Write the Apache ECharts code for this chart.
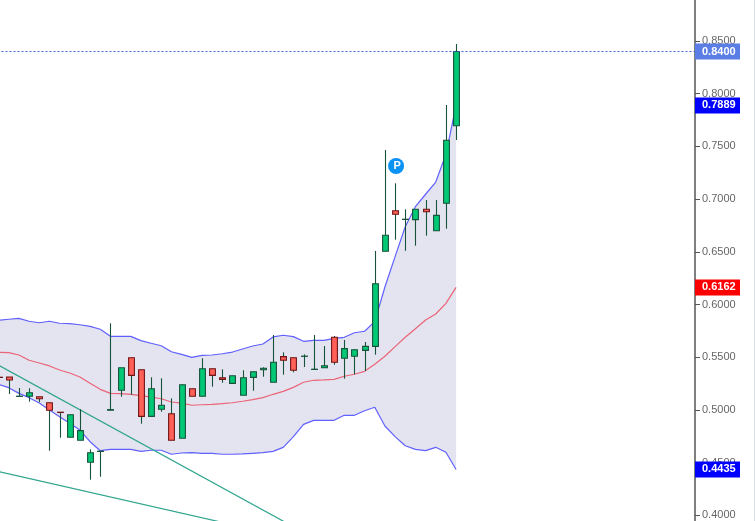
<!DOCTYPE html>
<html>
<head>
<meta charset="utf-8">
<style>html,body{margin:0;padding:0;background:#fff}#chart{width:755px;height:521px}</style>
<script src="https://cdn.jsdelivr.net/npm/echarts@6/dist/echarts.min.js"></script>
</head>
<body>
<div id="chart"></div>
<script>
// Daily candles: [open, close, low, high]
const candles = [
  [.5310,.5308,.5308,.5310],[.5312,.5284,.5151,.5312],[.5128,.5130,.5128,.5208],[.5129,.5163,.5078,.5205],
  [.5125,.5106,.5075,.5125],[.5068,.4996,.4613,.5068],[.4978,.4976,.4736,.4978],[.4740,.4954,.4740,.4954],
  [.4712,.4803,.4712,.5006],[.4503,.4594,.4338,.4626],[.4606,.4608,.4366,.4608],[.4997,.5003,.4997,.5822],
  [.5186,.5400,.5125,.5400],[.5495,.5328,.5144,.5495],[.5381,.4939,.4869,.5381],[.4939,.5201,.4939,.5309],
  [.5006,.5044,.4983,.5300],[.4964,.4712,.4712,.5110],[.4731,.5239,.4731,.5239],[.5201,.5129,.5129,.5201],
  [.5129,.5391,.5129,.5490],[.5391,.5328,.5220,.5391],[.5305,.5290,.5258,.5385],[.5252,.5324,.5252,.5324],
  [.5139,.5305,.5139,.5376],[.5309,.5362,.5182,.5362],[.5381,.5395,.5315,.5404],[.5262,.5452,.5262,.5711],
  [.5505,.5471,.5334,.5546],[.5495,.5376,.5357,.5495],[.5508,.5510,.5407,.5527],[.5384,.5386,.5384,.5711],
  [.5400,.5419,.5400,.5606],[.5689,.5452,.5429,.5701],[.5490,.5581,.5296,.5663],[.5509,.5571,.5338,.5571],
  [.5565,.5603,.5369,.5644],[.5603,.6197,.5524,.6508],[.6505,.6657,.6505,.7466],[.6890,.6856,.6615,.7150],
  [.6807,.6809,.6510,.6903],[.6805,.6903,.6558,.6903],[.6903,.6880,.6653,.6991],[.6700,.6846,.6700,.6991],
  [.6960,.7558,.6719,.7893],[.7696,.8400,.7561,.8472]
];

// Bollinger bands
const upperBand = [
  .5850,.5860,.5869,.5841,.5827,.5841,.5822,.5818,.5808,.5793,.5765,.5698,
  .5698,.5698,.5657,.5632,.5609,.5552,.5527,.5499,.5518,.5521,.5533,.5549,
  .5578,.5606,.5625,.5692,.5708,.5695,.5651,.5660,.5660,.5679,.5689,.5732,
  .5746,.5837,.6166,.6454,.6738,.6928,.7046,.7162,.7424,.7889
];
const middleBand = [
  .5546,.5543,.5521,.5471,.5445,.5417,.5379,.5350,.5312,.5252,.5195,.5157,
  .5154,.5148,.5135,.5122,.5106,.5075,.5065,.5044,.5049,.5053,.5059,.5068,
  .5082,.5097,.5116,.5148,.5176,.5214,.5262,.5281,.5284,.5290,.5319,.5338,
  .5366,.5433,.5509,.5600,.5689,.5770,.5853,.5910,.6011,.6162
];
const lowerBand = [
  .5243,.5211,.5157,.5116,.5065,.4999,.4935,.4873,.4809,.4698,.4613,.4626,
  .4626,.4626,.4607,.4617,.4617,.4579,.4591,.4594,.4588,.4588,.4579,.4579,
  .4582,.4588,.4594,.4607,.4645,.4746,.4863,.4901,.4901,.4901,.4949,.4949,
  .4992,.5025,.4847,.4746,.4660,.4626,.4613,.4645,.4598,.4435
];

// Hand-drawn trend lines: [slot, value] end points
const trendUpper = [[0, .5424], [31, .3786]];
const trendLower = [[0, .4416], [25, .3867]];

// Pattern marker and price tags
const patternMarker = [[39, .7314]];
const lastPrice = .8400;
const priceTags = [
  { value: .8400, color: '#5a7de6' },
  { value: .7889, color: '#0000ff' },
  { value: .6162, color: '#ff0000' },
  { value: .4435, color: '#0000ff' }
];

const slotCount = 69;
const slots = Array.from({ length: slotCount }, (_, i) => String(i));
const bandWidth = upperBand.map((v, i) => +(v - lowerBand[i]).toFixed(4));
const candleRows = candles.map((c, i) => [i, ...c]);

const bandBlue = 'rgba(80,80,255,0.9)';
const wickColor = '#17523a';
const fontFamily = '"Liberation Sans", Arial, sans-serif';

const tagLines = priceTags.map(t => ({
  yAxis: t.value,
  lineStyle: t.value === lastPrice
    ? { color: '#3f5fd0', type: [2, 2], width: 1 }
    : { color: 'transparent' },
  label: {
    show: true,
    position: 'end',
    distance: 0,
    formatter: t.value.toFixed(4),
    color: '#fff',
    fontFamily,
    fontSize: 11,
    fontWeight: 'bold',
    backgroundColor: t.color,
    width: 38,
    height: 15,
    lineHeight: 15,
    align: 'left',
    padding: [1, 0, 0, 7]
  }
}));

// Wicks stay dark green on every candle; only the body changes with direction.
function renderCandle(params, api) {
  const i = api.value(0);
  const open = api.value(1), close = api.value(2), low = api.value(3), high = api.value(4);
  const cx = Math.round(api.coord([i, open])[0]) + 0.5;
  const yOpen = api.coord([i, open])[1], yClose = api.coord([i, close])[1];
  const yLow = api.coord([i, low])[1], yHigh = api.coord([i, high])[1];
  const up = close >= open;
  const top = Math.min(yOpen, yClose);
  const h = Math.abs(yOpen - yClose);
  return {
    type: 'group',
    children: [
      {
        type: 'line',
        shape: { x1: cx, y1: yHigh, x2: cx, y2: yLow },
        style: { stroke: wickColor, lineWidth: 1.1 }
      },
      {
        type: 'rect',
        shape: { x: cx - 2.9, y: top, width: 5.8, height: h },
        style: {
          fill: up ? '#00c875' : '#ff6159',
          stroke: up ? wickColor : '#6e1414',
          lineWidth: 1.1
        }
      }
    ]
  };
}

const chart = echarts.init(document.getElementById('chart'), null, { renderer: 'canvas' });
chart.setOption({
  animation: false,
  backgroundColor: '#ffffff',
  grid: { left: -6.5, top: -11.7, width: 701.5, height: 579.7, containLabel: false, outerBoundsMode: 'none' },
  xAxis: { type: 'category', data: slots, show: false, boundaryGap: true },
  yAxis: {
    type: 'value',
    position: 'right',
    min: 0.35,
    max: 0.90,
    interval: 0.05,
    scale: true,
    splitLine: { show: false },
    axisLine: { show: true, onZero: false, lineStyle: { color: '#555', width: 1.5 } },
    axisTick: { show: true, length: 5, lineStyle: { color: '#555' } },
    axisLabel: {
      color: '#666',
      fontFamily,
      fontSize: 11,
      margin: 7,
      padding: [2, 0, 0, 0],
      formatter: v => v.toFixed(4)
    }
  },
  graphic: [{
    type: 'rect',
    shape: { x: 754, y: 0, width: 1, height: 521 },
    style: { fill: '#d9dfe6' }
  }],
  series: [
    {
      name: 'Lower', type: 'line', stack: 'band', data: lowerBand, symbol: 'none', z: 2,
      lineStyle: { color: bandBlue, width: 1.2 }
    },
    {
      name: 'Band', type: 'line', stack: 'band', data: bandWidth, symbol: 'none', z: 1,
      lineStyle: { color: bandBlue, width: 1.2 },
      areaStyle: { color: '#e4e4f0', opacity: 1 }
    },
    {
      name: 'Middle', type: 'line', data: middleBand, symbol: 'none', z: 2,
      lineStyle: { color: 'rgba(235,85,105,0.9)', width: 1.2 },
      markLine: {
        silent: true,
        symbol: 'none',
        precision: 4,
        animation: false,
        data: tagLines
      }
    },
    {
      name: 'Trend A', type: 'line', data: trendUpper, symbol: 'none', z: 3,
      lineStyle: { color: '#2fa58e', width: 1.2 }
    },
    {
      name: 'Trend B', type: 'line', data: trendLower, symbol: 'none', z: 3,
      lineStyle: { color: '#2fa58e', width: 1.2 }
    },
    {
      name: 'Price', type: 'custom', data: candleRows, renderItem: renderCandle, z: 4, clip: true,
      encode: { x: 0, y: [1, 2, 3, 4] }
    },
    {
      name: 'Pattern', type: 'scatter', data: patternMarker, symbol: 'circle', symbolSize: 16,
      symbolOffset: [1, 0], z: 6,
      itemStyle: { color: '#0a93f5', opacity: 1 },
      label: {
        show: true, position: 'inside', offset: [1, 0], formatter: 'P', color: '#fff',
        fontFamily, fontSize: 11, fontWeight: 'bold'
      }
    }
  ]
});
</script>
</body>
</html>
